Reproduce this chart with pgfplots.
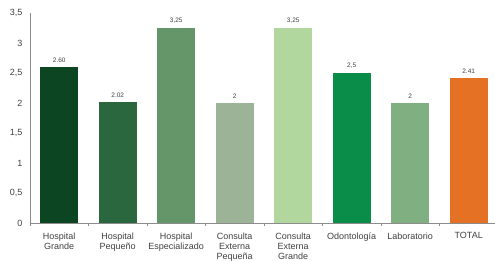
\documentclass[border=0pt]{standalone}
\usepackage{pgfplots}
\pgfplotsset{compat=1.18}
\usepackage{fontspec}
\setmainfont{Liberation Sans}
\definecolor{c1}{HTML}{0B4522}
\definecolor{c2}{HTML}{2B673E}
\definecolor{c3}{HTML}{649669}
\definecolor{c4}{HTML}{9CB397}
\definecolor{c5}{HTML}{B1D69E}
\definecolor{c6}{HTML}{0A8D48}
\definecolor{c7}{HTML}{80B081}
\definecolor{c8}{HTML}{E57125}
\definecolor{txt}{HTML}{404040}
\definecolor{axl}{HTML}{8C8C8C}
\begin{document}
\begin{tikzpicture}
\begin{axis}[
  scale only axis, width=465pt, height=210pt,
  xmin=-0.5, xmax=7.45, ymin=0, ymax=3.5,
  axis x line*=bottom, axis y line*=left,
  axis line style={axl, line width=0.6pt},
  ytick={0,0.5,1,1.5,2,2.5,3,3.5},
  yticklabel style={/pgf/number format/use comma, /pgf/number format/assume math mode=true, font=\fontsize{9}{10}\selectfont, text=txt},
  y tick style={draw=none},
  ytick align=outside, major tick length=4pt,
  xtick={0,...,7},
  x tick style={draw=none},
  minor xtick={-0.5,0.5,1.5,2.5,3.5,4.5,5.5,6.5},
  minor x tick style={axl, line width=0.5pt, draw=axl},
  minor tick length=3pt,
  xtick align=outside,
  xticklabels={{Hospital\\Grande},{Hospital\\Pequeño},{Hospital\\Especializado},{Consulta\\Externa\\Pequeña},{Consulta\\Externa\\Grande},{Odontología},{Laboratorio},{TOTAL}},
  xticklabel style={align=center, font=\fontsize{9}{10}\selectfont, text=txt, yshift=-2pt},
  ybar, bar width=38pt,
  every axis plot/.append style={bar shift=0pt, draw=none},
  nodes near coords, point meta=explicit symbolic,
  every node near coord/.append style={font=\fontsize{6.5}{7}\selectfont, text=txt, yshift=1pt},
]
\addplot[fill=c1] coordinates {(0,2.60) [2.60]};
\addplot[fill=c2] coordinates {(1,2.02) [2.02]};
\addplot[fill=c3] coordinates {(2,3.25) [{3,25}]};
\addplot[fill=c4] coordinates {(3,2.00) [2]};
\addplot[fill=c5] coordinates {(4,3.25) [{3,25}]};
\addplot[fill=c6] coordinates {(5,2.50) [{2,5}]};
\addplot[fill=c7] coordinates {(6,2.00) [2]};
\addplot[fill=c8] coordinates {(7,2.41) [2.41]};
\end{axis}
\pgfresetboundingbox
\path (current axis.south west) ++(-30pt,-37pt) coordinate (bl);
\path (current axis.north east) ++(0pt,13pt) coordinate (tr);
\path[use as bounding box] (bl) rectangle (tr);
\end{tikzpicture}
\end{document}
